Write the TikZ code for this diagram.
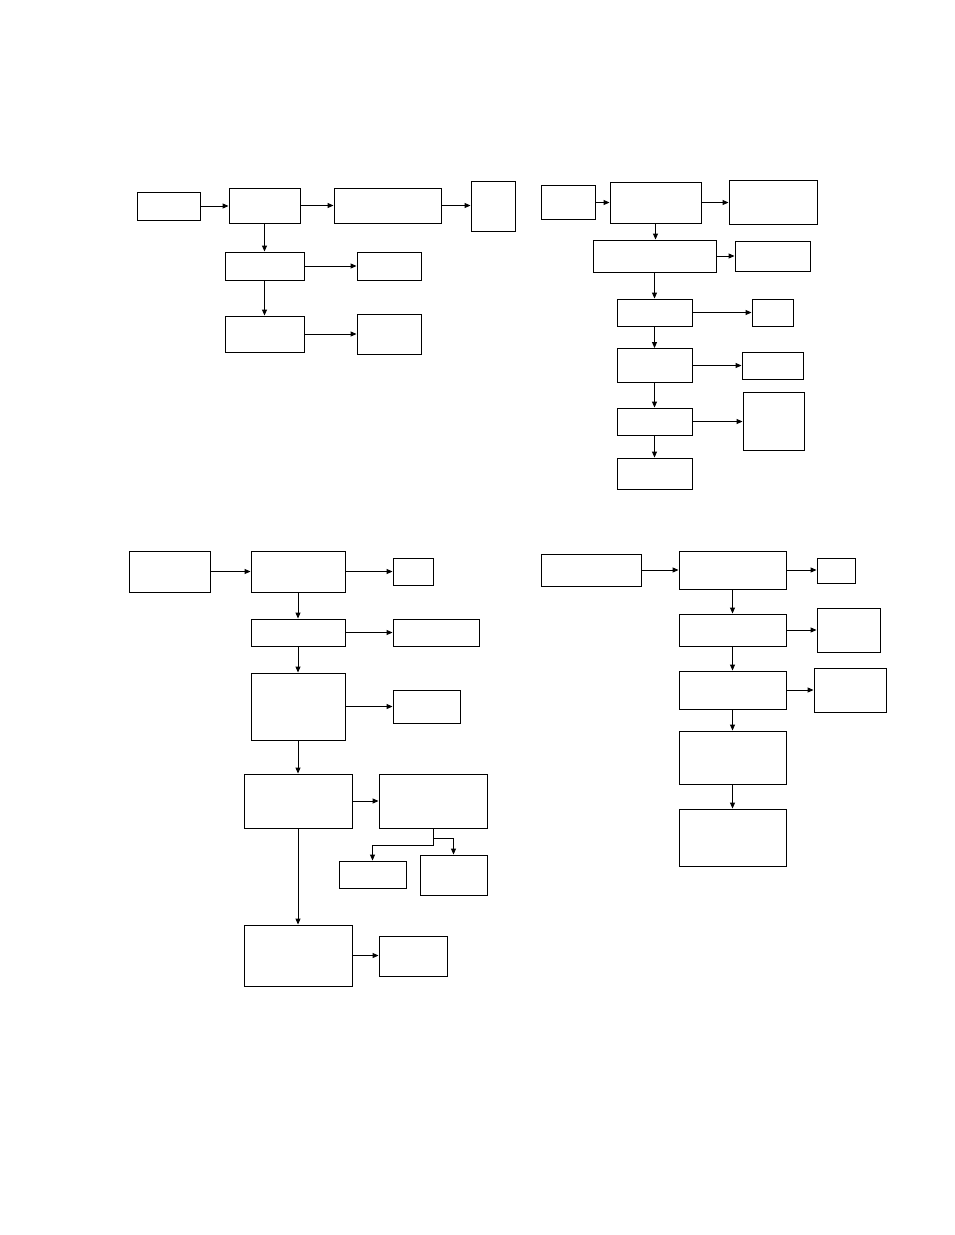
\documentclass[tikz,border=0pt]{standalone}
\usepackage{amsmath}
\usepackage{amssymb}
\usetikzlibrary{arrows.meta}

\begin{document}
\begin{tikzpicture}[x=1pt,y=-1pt,line width=0.9pt,->,>={Triangle[length=6pt,width=5pt]}]
  \tikzstyle{block}=[draw,rectangle,inner sep=0pt]
  \useasboundingbox (0,0) rectangle (954,1235);

  % upper left chart
  \node[block,minimum width=63pt,minimum height=28pt] (A_1) at (168.5,206) {};
  \node[block,minimum width=71pt,minimum height=35pt] (A_2) at (264.5,205.5) {};
  \node[block,minimum width=107pt,minimum height=35pt] (A_3) at (387.5,205.5) {};
  \node[block,minimum width=44pt,minimum height=50pt] (A_4) at (493,206) {};
  \node[block,minimum width=79pt,minimum height=28pt] (A_5) at (264.5,266) {};
  \node[block,minimum width=64pt,minimum height=28pt] (A_6) at (389,266) {};
  \node[block,minimum width=79pt,minimum height=36pt] (A_7) at (264.5,334) {};
  \node[block,minimum width=64pt,minimum height=40pt] (A_8) at (389,334) {};

  \draw (A_1.east) -- (A_1.east -| A_2.west);
  \draw (A_2.east) -- (A_2.east -| A_3.west);
  \draw (A_3.east) -- (A_3.east -| A_4.west);
  \draw (A_2.south) -- (A_2.south |- A_5.north);
  \draw (A_5.south) -- (A_5.south |- A_7.north);
  \draw (A_5.east) -- (A_5.east -| A_6.west);
  \draw (A_7.east) -- (A_7.east -| A_8.west);

  % upper right chart
  \node[block,minimum width=54pt,minimum height=34pt] (B_1) at (568,202.5) {};
  \node[block,minimum width=91pt,minimum height=41pt] (B_2) at (655.5,202.5) {};
  \node[block,minimum width=88pt,minimum height=44pt] (B_3) at (773,202.5) {};
  \node[block,minimum width=123pt,minimum height=32pt] (B_4) at (654.5,256) {};
  \node[block,minimum width=75pt,minimum height=30pt] (B_5) at (772.5,256) {};
  \node[block,minimum width=75pt,minimum height=27pt] (B_6) at (654.5,312.5) {};
  \node[block,minimum width=41pt,minimum height=27pt] (B_7) at (772.5,312.5) {};
  \node[block,minimum width=75pt,minimum height=34pt] (B_8) at (654.5,365.5) {};
  \node[block,minimum width=61pt,minimum height=27pt] (B_9) at (772.5,365.5) {};
  \node[block,minimum width=75pt,minimum height=27pt] (B_10) at (654.5,421.5) {};
  \node[block,minimum width=61pt,minimum height=58pt] (B_11) at (773.5,421) {};
  \node[block,minimum width=75pt,minimum height=31pt] (B_12) at (654.5,473.5) {};

  \draw (B_1.east) -- (B_1.east -| B_2.west);
  \draw (B_2.east) -- (B_2.east -| B_3.west);
  \draw (B_2.south) -- (B_2.south |- B_4.north);
  \draw (B_4.east) -- (B_4.east -| B_5.west);
  \draw (B_4.south) -- (B_4.south |- B_6.north);
  \draw (B_6.east) -- (B_6.east -| B_7.west);
  \draw (B_6.south) -- (B_6.south |- B_8.north);
  \draw (B_8.east) -- (B_8.east -| B_9.west);
  \draw (B_8.south) -- (B_8.south |- B_10.north);
  \draw (B_10.east) -- (B_10.east -| B_11.west);
  \draw (B_10.south) -- (B_10.south |- B_12.north);

  % lower left chart
  \node[block,minimum width=81pt,minimum height=41pt] (C_1) at (169.5,571.5) {};
  \node[block,minimum width=94pt,minimum height=41pt] (C_2) at (298,571.5) {};
  \node[block,minimum width=40pt,minimum height=27pt] (C_3) at (413,571.5) {};
  \node[block,minimum width=94pt,minimum height=27pt] (C_4) at (298,632.5) {};
  \node[block,minimum width=86pt,minimum height=27pt] (C_5) at (436,632.5) {};
  \node[block,minimum width=94pt,minimum height=67pt] (C_6) at (298,706.5) {};
  \node[block,minimum width=67pt,minimum height=33pt] (C_7) at (426.5,706.5) {};
  \node[block,minimum width=108pt,minimum height=54pt] (C_8) at (298,801) {};
  \node[block,minimum width=108pt,minimum height=54pt] (C_9) at (433,801) {};
  \node[block,minimum width=67pt,minimum height=27pt] (C_10) at (372.5,874.5) {};
  \node[block,minimum width=67pt,minimum height=40pt] (C_11) at (453.5,875) {};
  \node[block,minimum width=108pt,minimum height=61pt] (C_12) at (298,955.5) {};
  \node[block,minimum width=68pt,minimum height=40pt] (C_13) at (413,956) {};

  \draw (C_1.east) -- (C_1.east -| C_2.west);
  \draw (C_2.east) -- (C_2.east -| C_3.west);
  \draw (C_2.south) -- (C_2.south |- C_4.north);
  \draw (C_4.east) -- (C_4.east -| C_5.west);
  \draw (C_4.south) -- (C_4.south |- C_6.north);
  \draw (C_6.east) -- (C_6.east -| C_7.west);
  \draw (C_6.south) -- (C_6.south |- C_8.north);
  \draw (C_8.east) -- (C_8.east -| C_9.west);
  \draw (C_9.south) -- ++(0,10) -| (C_11.north);
  \draw (C_9.south) -- ++(0,17) -| (C_10.north);
  \draw (C_8.south) -- (C_8.south |- C_12.north);
  \draw (C_12.east) -- (C_12.east -| C_13.west);

  % lower right chart
  \node[block,minimum width=100pt,minimum height=32pt] (D_1) at (591,570) {};
  \node[block,minimum width=107pt,minimum height=38pt] (D_2) at (732.5,570) {};
  \node[block,minimum width=38pt,minimum height=25pt] (D_3) at (836,570.5) {};
  \node[block,minimum width=107pt,minimum height=32pt] (D_4) at (732.5,630) {};
  \node[block,minimum width=63pt,minimum height=44pt] (D_5) at (848.5,630) {};
  \node[block,minimum width=107pt,minimum height=38pt] (D_6) at (732.5,690) {};
  \node[block,minimum width=72pt,minimum height=44pt] (D_7) at (850,690) {};
  \node[block,minimum width=107pt,minimum height=53pt] (D_8) at (732.5,757.5) {};
  \node[block,minimum width=107pt,minimum height=57pt] (D_9) at (732.5,837.5) {};

  \draw (D_1.east) -- (D_1.east -| D_2.west);
  \draw (D_2.east) -- (D_2.east -| D_3.west);
  \draw (D_2.south) -- (D_2.south |- D_4.north);
  \draw (D_4.east) -- (D_4.east -| D_5.west);
  \draw (D_4.south) -- (D_4.south |- D_6.north);
  \draw (D_6.east) -- (D_6.east -| D_7.west);
  \draw (D_6.south) -- (D_6.south |- D_8.north);
  \draw (D_8.south) -- (D_8.south |- D_9.north);
\end{tikzpicture}
\end{document}
